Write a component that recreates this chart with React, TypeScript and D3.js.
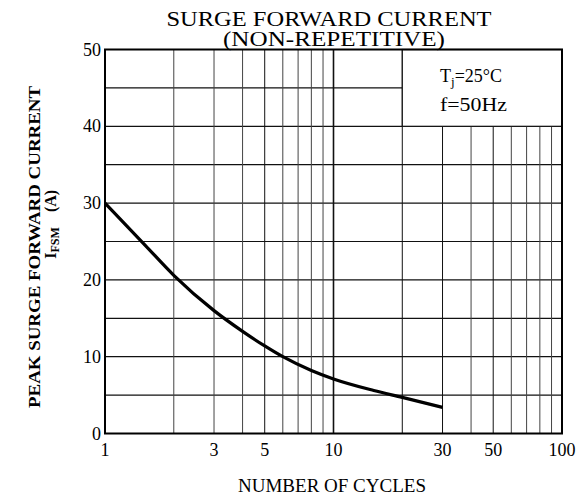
import * as d3 from 'd3'

const W = 588
const H = 500

// curve
const cycles = [1, 1.5, 2, 3, 4, 5, 6, 8, 10, 15, 20, 30]
const current = [30, 24.5, 20.6, 16.0, 13.3, 11.4, 10.0, 8.2, 7.1, 5.6, 4.7, 3.4]

const xTicks = [1, 3, 5, 10, 30, 50, 100]
const xGrid = [2, 3, 4, 5, 6, 7, 8, 9, 10, 20, 30, 40, 50, 60, 70, 80, 90]
const yTicks = [0, 10, 20, 30, 40, 50]
const yGrid = [5, 10, 15, 20, 25, 30, 35, 40, 45]

const titleLines = ['SURGE FORWARD CURRENT', '(NON-REPETITIVE)']
const legendLines = ['=25°C', 'f=50Hz']

const FONT = '"Liberation Serif", "Times New Roman", serif'

export default function App() {
  const x = d3.scaleLog().domain([1, 100]).range([105, 562])
  const y = d3.scaleLinear().domain([0, 50]).range([433.5, 49.5])

  const points: [number, number][] = cycles.map((c, i) => [c, current[i]])
  const line = d3
    .line<[number, number]>()
    .x(d => x(d[0]))
    .y(d => y(d[1]))
    .curve(d3.curveMonotoneX)

  // legend box covers the grid between 20..100 cycles and 40..50 A
  const bx0 = x(20)
  const bx1 = x(100)
  const by0 = y(50)
  const by1 = y(40)

  return (
    <svg
      width={W}
      height={H}
      style={{ position: 'absolute', left: 0, top: 0, background: '#fff' }}
      fontFamily={FONT}
    >
      {/* grid */}
      {yGrid.map(v => (
        <line key={'h' + v} x1={x(1)} x2={x(100)} y1={y(v)} y2={y(v)} stroke="#111" strokeWidth={1.2} />
      ))}
      {xGrid.map(v => (
        <line
          key={'v' + v}
          x1={x(v)}
          x2={x(v)}
          y1={y(0)}
          y2={y(50)}
          stroke={v === 10 || v === 20 || v === 30 || v === 5 || v === 50 ? '#111' : '#444'}
          strokeWidth={v === 10 ? 1.6 : 1}
        />
      ))}

      {/* legend box */}
      <rect x={bx0} y={by0} width={bx1 - bx0} height={by1 - by0} fill="#fff" stroke="#111" strokeWidth={1.2} />
      <text x={440} y={82} fontSize={18}>
        T<tspan fontSize={13} dy={4}>j</tspan>
        <tspan dy={-4}>{legendLines[0]}</tspan>
      </text>
      <text x={440} y={111} fontSize={18} textLength={67} lengthAdjust="spacingAndGlyphs">
        {legendLines[1]}
      </text>

      {/* frame */}
      <rect x={x(1)} y={y(50)} width={x(100) - x(1)} height={y(0) - y(50)} fill="none" stroke="#000" strokeWidth={2} />

      {/* curve */}
      <path d={line(points) || ''} fill="none" stroke="#000" strokeWidth={3.2} />

      {/* y tick labels */}
      {yTicks.map(v => (
        <text key={'yt' + v} x={101} y={y(v) + 6} fontSize={18} textAnchor="end">
          {v}
        </text>
      ))}
      {/* x tick labels */}
      {xTicks.map(v => (
        <text key={'xt' + v} x={x(v)} y={456} fontSize={18} textAnchor="middle">
          {v}
        </text>
      ))}

      {/* title */}
      <text x={329} y={26} fontSize={22} textAnchor="middle" textLength={325} lengthAdjust="spacingAndGlyphs">
        {titleLines[0]}
      </text>
      <text x={334} y={46} fontSize={22} textAnchor="middle" textLength={222} lengthAdjust="spacingAndGlyphs">
        {titleLines[1]}
      </text>

      {/* x axis title */}
      <text x={332} y={492} fontSize={19} textAnchor="middle">
        NUMBER OF CYCLES
      </text>

      {/* y axis title */}
      <text
        transform="translate(40,247) rotate(-90)"
        fontSize={16}
        fontWeight="bold"
        textAnchor="middle"
        textLength={322}
        lengthAdjust="spacingAndGlyphs"
      >
        PEAK SURGE FORWARD CURRENT
      </text>
      <text transform="translate(56,243) rotate(-90)" fontSize={16} fontWeight="bold" textAnchor="middle">
        I<tspan fontSize={12} dy={3}>FSM</tspan>
      </text>
      <text transform="translate(56,201) rotate(-90)" fontSize={16} fontWeight="bold" textAnchor="middle">
        (A)
      </text>
    </svg>
  )
}
